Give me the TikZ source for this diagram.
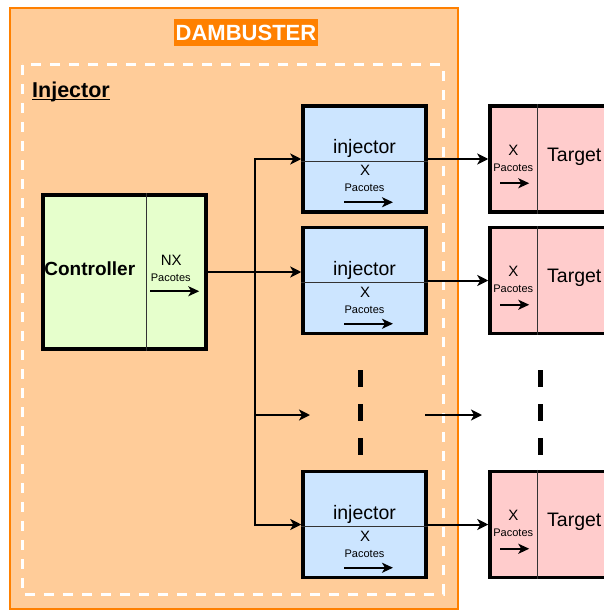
\documentclass[tikz,border=0pt]{standalone}
\usepackage{fontspec}
\setmainfont{Liberation Sans}
\usetikzlibrary{arrows.meta,calc}

\definecolor{dbfill}{HTML}{FFCC99}
\definecolor{dbline}{HTML}{FF8000}
\definecolor{ctrlfill}{HTML}{E6FFCC}
\definecolor{injfill}{HTML}{CCE5FF}
\definecolor{tgtfill}{HTML}{FFCCCC}

\begin{document}
\begin{tikzpicture}[x=1pt,y=-1pt,
  box/.style={draw=black, line width=3.5pt, inner sep=0pt,
    minimum width=123pt, minimum height=106pt},
  divider/.style={draw=black!80, line width=1pt},
  lbl/.style={inner sep=0pt, anchor=base},
  bigtext/.style={lbl, font=\fontsize{19.5}{22}\selectfont},
  boldtext/.style={lbl, font=\fontsize{19}{22}\selectfont\bfseries},
  midtext/.style={lbl, font=\fontsize{15}{17}\selectfont},
  smalltext/.style={lbl, font=\fontsize{11}{13}\selectfont},
  link/.style={line width=2pt, -{Stealth[length=11pt,width=11pt,inset=3pt]}},
  flow/.style={line width=2.2pt, -{Stealth[length=11pt,width=10pt,inset=3pt]}},
  gapdash/.style={line width=5pt, dash pattern=on 17pt off 17pt}]

\useasboundingbox (0,0) rectangle (604,610);

% DAMBUSTER container
\draw[fill=dbfill, draw=dbline, line width=2pt] (10,8) rectangle (458,609);
\node[fill=dbline, text=white, inner sep=0pt, minimum width=144pt,
  minimum height=27pt, font=\fontsize{22}{24}\selectfont\bfseries]
  (title) at (246,32.5) {DAMBUSTER};

% Injector group
\draw[white, line width=3pt, dash pattern=on 10pt off 9pt] (22,65) rectangle (443,594);
\node[inner sep=0pt, anchor=base west, font=\fontsize{21.5}{24}\selectfont\bfseries]
  (grp) at (32,97) {Injector};
\draw[line width=1.6pt] ($(grp.base west)+(0,2.5)$) -- ($(grp.base east)+(0,2.5)$);

% Controller
\node[box, fill=ctrlfill, minimum width=163pt, minimum height=154pt] (ctrl) at (124.5,272) {};
\draw[divider] ($(ctrl.north west)+(105,0)$) -- ($(ctrl.south west)+(105,0)$);
\node[boldtext] (ctrlname) at ($(ctrl.north west)+(48.5,82)$) {Controller};
\node[midtext] (ctrlnx) at ($(ctrl.north west)+(130,72)$) {NX};
\node[smalltext] (ctrlp) at ($(ctrl.north west)+(129.5,88)$) {Pacotes};
\coordinate (ctrla) at ($(ctrl.north west)+(109,98)$);
\coordinate (ctrlb) at ($(ctrl.north west)+(158,98)$);
\draw[flow] (ctrla) -- (ctrlb);

% Injectors and targets
\foreach \n/\y in {1/159,2/280.5,3/524.5}{
  \node[box, fill=injfill] (inj\n) at (364.5,\y) {};
  \draw[divider] ($(inj\n.north west)+(0,57)$) -- ($(inj\n.north east)+(0,57)$);
  \node[bigtext] (injname\n) at ($(inj\n.north)+(0,49.5)$) {injector};
  \node[midtext] (injx\n) at ($(inj\n.north)+(0.5,71.5)$) {X};
  \node[smalltext] (injp\n) at ($(inj\n.north)+(0,87.5)$) {Pacotes};
  \coordinate (inja\n) at ($(inj\n.north)+(-20.5,98)$);
  \coordinate (injb\n) at ($(inj\n.north)+(28.5,98)$);
  \draw[flow] (inja\n) -- (injb\n);

  \node[box, fill=tgtfill] (tgt\n) at (551.5,\y) {};
  \draw[divider] ($(tgt\n.north west)+(49,0)$) -- ($(tgt\n.south west)+(49,0)$);
  \node[midtext] (tgtx\n) at ($(tgt\n.north west)+(25,51)$) {X};
  \node[smalltext] (tgtp\n) at ($(tgt\n.north west)+(25,67)$) {Pacotes};
  \node[bigtext] (tgtname\n) at ($(tgt\n.north west)+(86,57)$) {Target};
  \coordinate (tgta\n) at ($(tgt\n.north west)+(12,79)$);
  \coordinate (tgtb\n) at ($(tgt\n.north west)+(41,79)$);
  \draw[flow] (tgta\n) -- (tgtb\n);

  \draw[link] (inj\n.east) -- (tgt\n.west);
}

% Fan-out from the controller
\coordinate (bus) at (255,272);
\coordinate (gapL) at (310,415);
\coordinate (gapR0) at (425,415);
\coordinate (gapR) at (482,415);
\draw[link] (ctrl.east) -- (ctrl.east -| inj2.west);
\draw[link] (bus) |- (inj1.west);
\draw[link] (bus) |- (inj3.west);
\draw[link] (bus) |- (gapL);
\draw[link] (gapR0) -- (gapR);

% Elision marks
\draw[gapdash] (360,370) -- (360,456);
\draw[gapdash] (540,370) -- (540,456);
\end{tikzpicture}
\end{document}
